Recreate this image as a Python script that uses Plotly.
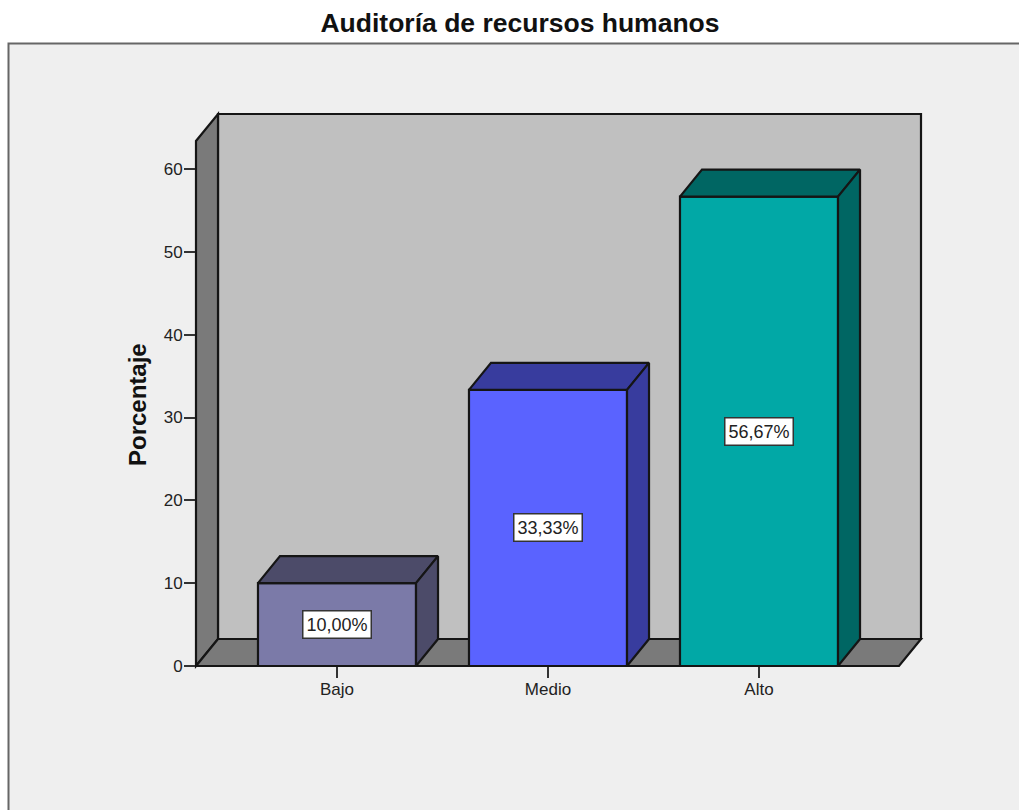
import plotly.graph_objects as go

categories = ['Bajo', 'Medio', 'Alto']
values = [10.00, 33.33, 56.67]
labels = ['10,00%', '33,33%', '56,67%']
y_ticks = [0, 10, 20, 30, 40, 50, 60]

front_colors = ['#7b7aa8', '#5a63ff', '#01a8a6']
dark_colors = ['#4c4b69', '#383c9e', '#006663']

W, H = 1019, 810
# plot area in pixels: left/right of the floor+depth, top of wall, y=0 line
L, R, T, B = 196, 921, 114, 666
PX_X = 211.0      # pixels per category
PX_Y = 8.283      # pixels per percent
BAR_W = 0.749
DX = 22 / PX_X    # 3d depth in axis units
DY = 27 / PX_Y
x0 = (L - 337) / PX_X
x1 = (R - 337) / PX_X
y1 = (B - T) / PX_Y
x = list(range(len(categories)))
EDGE = '#151515'
LW = 2.2
# depth as a fraction of the plot area, paper shapes are not clipped
PDX = 22 / (R - L)
PDY = 27 / (B - T)


def py(v):
    # paper y measured from the plot area
    return (B - v) / (B - T)


def poly(xs, ys):
    return 'M' + ' L'.join(f'{a},{b}' for a, b in zip(xs, ys)) + ' Z'


fig = go.Figure()

# front faces
fig.add_trace(go.Bar(x=x, y=values, width=BAR_W, marker_color=front_colors, cliponaxis=False,
                     marker_line=dict(color=EDGE, width=LW), hoverinfo='skip', showlegend=False))

# top and side faces of each bar
for xi, v, dark in zip(x, values, dark_colors):
    l, r = xi - BAR_W / 2, xi + BAR_W / 2
    fig.add_trace(go.Scatter(x=[l, r, r + DX, l + DX, l], y=[v, v, v + DY, v + DY, v],
                             mode='lines', fill='toself', fillcolor=dark, cliponaxis=False,
                             line=dict(color=EDGE, width=LW), hoverinfo='skip', showlegend=False))
    fig.add_trace(go.Scatter(x=[r, r + DX, r + DX, r, r], y=[0, DY, v + DY, v, 0],
                             mode='lines', fill='toself', fillcolor=dark, cliponaxis=False,
                             line=dict(color=EDGE, width=LW), hoverinfo='skip', showlegend=False))

shapes = [
    # grey panel behind the chart, open at the bottom
    dict(type='rect', xref='paper', yref='paper', layer='below',
         x0=(8.5 - L) / (R - L), x1=(W + 5 - L) / (R - L), y0=py(H + 5), y1=py(43.5),
         fillcolor='#efefef', line=dict(color='#666666', width=2)),
    # back wall
    dict(type='path', xref='paper', yref='paper', layer='below',
         path=poly([PDX, 1, 1, PDX], [PDY, PDY, 1, 1]),
         fillcolor='#c0c0c0', line=dict(color=EDGE, width=LW)),
    # side wall
    dict(type='path', xref='paper', yref='paper', layer='below',
         path=poly([0, PDX, PDX, 0], [0, PDY, 1, 1 - PDY]),
         fillcolor='#7a7a7a', line=dict(color=EDGE, width=LW)),
    # floor
    dict(type='path', xref='paper', yref='paper', layer='below',
         path=poly([0, 1 - PDX, 1, PDX], [0, 0, PDY, PDY]),
         fillcolor='#7a7a7a', line=dict(color=EDGE, width=LW)),
]

annotations = [
    dict(x=xi, y=v / 2, xref='x', yref='y', text=t, showarrow=False,
         font=dict(family='Liberation Sans', size=18, color='#222222'),
         bgcolor='white', bordercolor='#333333', borderwidth=1.5, borderpad=3)
    for xi, v, t in zip(x, values, labels)
]
annotations.append(dict(x=(137 - L) / (R - L), y=py(405), xref='paper', yref='paper',
                        xanchor='center', yanchor='middle',
                        text='<b>Porcentaje</b>', textangle=-90, showarrow=False,
                        font=dict(family='Liberation Sans', size=24, color='#111111')))

fig.update_layout(
    width=W, height=H,
    margin=dict(l=L, r=W - R, t=T, b=H - B, pad=0),
    paper_bgcolor='white',
    plot_bgcolor='rgba(0,0,0,0)',
    title=dict(text='<b>Auditoría de recursos humanos</b>', x=520 / W, y=1 - 23 / H,
               xanchor='center', yanchor='middle', xref='container', yref='container',
               font=dict(family='Liberation Sans', size=26.5, color='#111111')),
    shapes=shapes,
    annotations=annotations,
    showlegend=False,
    xaxis=dict(range=[x0, x1], tickvals=x, ticktext=categories, ticks='outside', ticklen=11,
               tickwidth=2, tickcolor='#333333', showgrid=False, zeroline=False, showline=False,
               ticklabelstandoff=-3,
               tickfont=dict(family='Liberation Sans', size=17, color='#222222')),
    yaxis=dict(range=[0, y1], tickvals=y_ticks, ticks='outside', ticklen=11, tickwidth=2,
               tickcolor='#333333', showgrid=False, zeroline=False, showline=False,
               ticklabelstandoff=-2,
               tickfont=dict(family='Liberation Sans', size=17, color='#222222')),
)

fig.write_html("out.html", config={'displayModeBar': False},
               post_script="document.body.style.margin='0';document.body.style.overflow='hidden';")
